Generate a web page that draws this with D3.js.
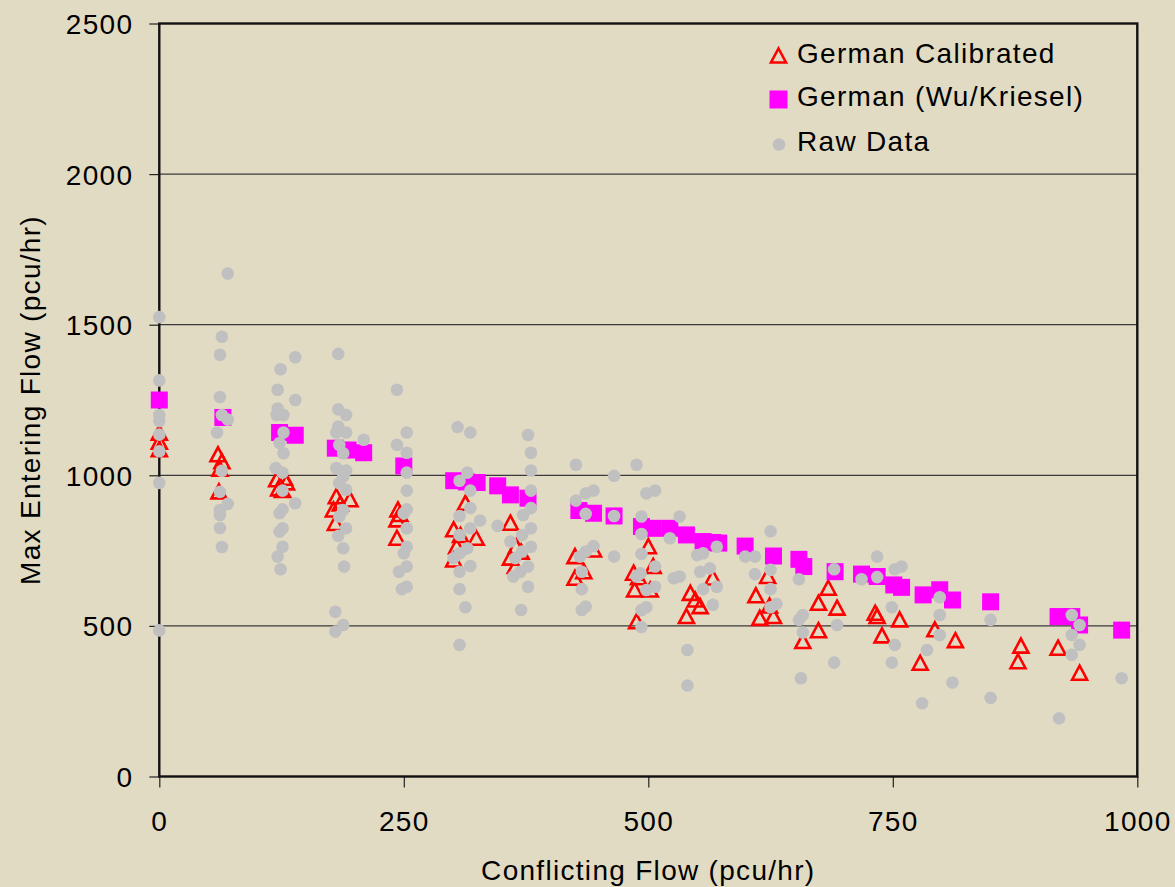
<!DOCTYPE html>
<html>
<head>
<meta charset="utf-8">
<script src="https://cdn.jsdelivr.net/npm/d3@7/dist/d3.min.js"></script>
<style>
  html, body { margin: 0; padding: 0; background: #e2dbc4; }
  svg { display: block; }
  text { font-family: "Liberation Sans", Arial, sans-serif; fill: #000; }
</style>
</head>
<body>
<svg id="chart" width="1175" height="887"></svg>
<script>
// Series: [conflicting flow, max entering flow] in pcu/hr
const germanCalibrated = [
  [0,1140],[0,1110],[0,1085],
  [60,1068],[64,1045],[62,1020],[61,945],
  [120,985],[128,990],[130,975],[122,955],[126,950],
  [181,929],[195,919],[185,905],[178,885],[180,840],
  [244,885],[246,870],[243,852],[243,791],
  [313,907],[301,819],[308,800],[324,791],[304,763],[301,719],
  [359,841],[365,763],[370,745],[359,725],[364,697],
  [425,730],[444,752],[434,680],[425,658],
  [500,763],[505,697],[485,675],[490,660],[486,619],[502,619],[488,514],
  [539,531],[548,586],[553,564],[543,608],[566,659],
  [610,600],[622,664],[624,566],[628,531],[614,525],
  [658,448],[674,575],[674,484],[684,625],[693,559],
  [732,542],[734,531],[739,467],[757,520],
  [793,487],[778,376],[814,451],
  [881,433],[878,381],[919,426],[941,343]
];

const germanWuKriesel = [
  [0,1250],[65,1192],[123,1142],[139,1133],[180,1090],[193,1084],[209,1075],
  [250,1031],[301,982],[314,978],[325,976],[346,965],[359,935],[377,924],
  [429,883],[444,874],[465,865],[493,830],[505,824],[522,824],[539,802],
  [556,780],[566,777],[572,775],[599,765],[628,732],[654,721],[659,697],
  [691,680],[718,672],[734,664],[751,636],[759,628],[781,603],[798,620],
  [811,586],[850,580],[919,531],[933,531],[941,503],[984,486]
];

const rawData = [
  [0,1525],[0,1315],[0,1200],[0,1180],[0,1135],[0,1080],[0,975],[0,485],
  [64,1460],[62,1400],[62,1260],[64,1200],[70,1185],[59,1142],[64,1015],[62,945],
  [70,905],[62,885],[62,868],[62,825],[64,762],[70,1670],
  [124,1352],[139,1392],[121,1284],[139,1250],[121,1222],[120,1200],[127,1200],
  [127,1142],[123,1107],[127,1073],[119,1024],[126,1009],[126,949],[139,907],
  [126,887],[123,874],[126,824],[123,813],[126,763],[121,730],[124,688],
  [183,1403],[183,1219],[191,1200],[183,1162],[181,1142],[191,1142],[184,1101],
  [188,1073],[181,1024],[191,1016],[188,996],[184,974],[191,952],[188,885],
  [184,863],[191,824],[183,799],[188,758],[189,697],[180,547],[188,503],[180,481],
  [209,1118],
  [243,1284],[243,1101],[253,1142],[253,1075],[253,1009],[253,949],[253,887],
  [250,874],[253,824],[253,763],[250,741],[253,697],[245,680],[253,630],[248,622],
  [305,1160],[318,1142],[315,1009],[307,982],[318,949],[318,891],[307,865],
  [328,850],[318,824],[307,802],[315,758],[307,741],[301,725],[318,699],[307,680],
  [307,622],[313,562],[307,437],[346,832],
  [377,1134],[380,1075],[380,1016],[380,949],[380,891],[372,868],[380,824],
  [371,802],[380,763],[371,747],[364,725],[377,697],[369,680],[362,664],[377,630],
  [370,553],[359,780],
  [426,1035],[436,940],[444,949],[426,916],[436,872],[444,765],[436,747],[430,730],
  [432,680],[432,622],[436,564],[432,553],[465,998],[465,865],[465,730],
  [488,1035],[498,940],[507,949],[493,863],[493,805],[522,791],[493,739],[507,697],
  [492,675],[488,664],[507,630],[498,619],[498,562],[493,553],[493,496],[532,863],
  [526,658],[532,664],[540,420],[540,302],
  [550,735],[556,741],[563,691],[553,680],[570,763],[556,622],[566,570],[570,630],
  [625,814],[599,730],[609,730],[609,672],[625,686],[625,622],[631,573],[625,562],
  [654,655],[654,520],[658,536],[658,478],[656,326],
  [690,688],[693,503],[690,378],
  [734,730],[752,688],[759,697],[749,562],[752,437],[749,378],[718,655],[734,662],
  [798,595],[798,536],[798,470],[785,420],[811,312],[780,243],
  [850,520],[850,261],
  [933,536],[941,503],[933,470],[941,437],[933,404],[920,193],[984,326]
];

const xTicks = [0, 250, 500, 750, 1000];
const yTicks = [0, 500, 1000, 1500, 2000, 2500];
const gridValues = [500, 1000, 1500, 2000];

const seriesNames = ["German Calibrated", "German (Wu/Kriesel)", "Raw Data"];

const svg = d3.select("#chart");
const fontSize = 28;
const spacing = "1.3px";

const x = d3.scaleLinear().domain([0, 1000]).range([159.3, 1137.3]);
const y = d3.scaleLinear().domain([0, 2500]).range([776.5, 23.5]);

// Horizontal gridlines
svg.append("g")
  .selectAll("line")
  .data(gridValues)
  .join("line")
  .attr("x1", x(0)).attr("x2", x(1000))
  .attr("y1", d => y(d)).attr("y2", d => y(d))
  .attr("stroke", "#3a3a3a")
  .attr("stroke-width", 1.2);

// Axes
const yAxis = svg.append("g")
  .attr("transform", `translate(${x(0)},0)`)
  .call(d3.axisLeft(y).tickValues(yTicks).tickFormat(d3.format("d")).tickSize(10).tickPadding(16));
const xAxis = svg.append("g")
  .attr("transform", `translate(0,${y(0)})`)
  .call(d3.axisBottom(x).tickValues(xTicks).tickFormat(d3.format("d")).tickSize(11).tickPadding(24));

[yAxis, xAxis].forEach(g => {
  g.select(".domain").remove();
  g.selectAll(".tick line").attr("stroke", "#222").attr("stroke-width", 1.2);
  g.selectAll(".tick text")
    .style("font-family", '"Liberation Sans", Arial, sans-serif')
    .style("font-size", fontSize + "px")
    .style("letter-spacing", spacing)
    .attr("fill", "#000");
});
yAxis.selectAll(".tick text").attr("dy", "0.36em");

// Plot frame
svg.append("rect")
  .attr("x", x(0)).attr("y", y(2500))
  .attr("width", x(1000) - x(0)).attr("height", y(0) - y(2500))
  .attr("fill", "none")
  .attr("stroke", "#111")
  .attr("stroke-width", 2.4);

// Marker shapes
const triPath = "M0,-7.5 L7.5,6.5 L-7.5,6.5 Z";
const sq = 17;

const plot = svg.append("g");

plot.append("g").selectAll("path")
  .data(germanCalibrated)
  .join("path")
  .attr("d", triPath)
  .attr("transform", d => `translate(${x(d[0])},${y(d[1])})`)
  .attr("fill", "none")
  .attr("stroke", "#ff0000")
  .attr("stroke-width", 2.6);

plot.append("g").selectAll("rect")
  .data(germanWuKriesel)
  .join("rect")
  .attr("x", d => x(d[0]) - sq / 2)
  .attr("y", d => y(d[1]) - sq / 2)
  .attr("width", sq).attr("height", sq)
  .attr("fill", "#ff00ff");

plot.append("g").selectAll("circle")
  .data(rawData)
  .join("circle")
  .attr("cx", d => x(d[0]))
  .attr("cy", d => y(d[1]))
  .attr("r", 6.3)
  .attr("fill", "#c0c0c0");

// Legend
const legend = svg.append("g");
const legendRows = [
  { name: seriesNames[0], ty: 63, my: 56 },
  { name: seriesNames[1], ty: 106, my: 99.5 },
  { name: seriesNames[2], ty: 151, my: 144.5 }
];
legend.append("path")
  .attr("d", triPath)
  .attr("transform", `translate(778.5,${legendRows[0].my})`)
  .attr("fill", "none").attr("stroke", "#ff0000").attr("stroke-width", 2.6);
legend.append("rect")
  .attr("x", 778.5 - 9).attr("y", legendRows[1].my - 9)
  .attr("width", 18).attr("height", 18)
  .attr("fill", "#ff00ff");
legend.append("circle")
  .attr("cx", 779).attr("cy", legendRows[2].my).attr("r", 6.3)
  .attr("fill", "#c0c0c0");
legend.selectAll("text")
  .data(legendRows)
  .join("text")
  .attr("x", 797)
  .attr("y", d => d.ty)
  .style("font-size", fontSize + "px")
  .style("letter-spacing", spacing)
  .text(d => d.name);

// Axis titles
svg.append("text")
  .attr("x", (x(0) + x(1000)) / 2)
  .attr("y", 880)
  .attr("text-anchor", "middle")
  .style("font-size", fontSize + "px")
  .style("letter-spacing", spacing)
  .text("Conflicting Flow (pcu/hr)");

svg.append("text")
  .attr("transform", "translate(40,400) rotate(-90)")
  .attr("text-anchor", "middle")
  .style("font-size", fontSize + "px")
  .style("letter-spacing", spacing)
  .text("Max Entering Flow (pcu/hr)");
</script>
</body>
</html>
